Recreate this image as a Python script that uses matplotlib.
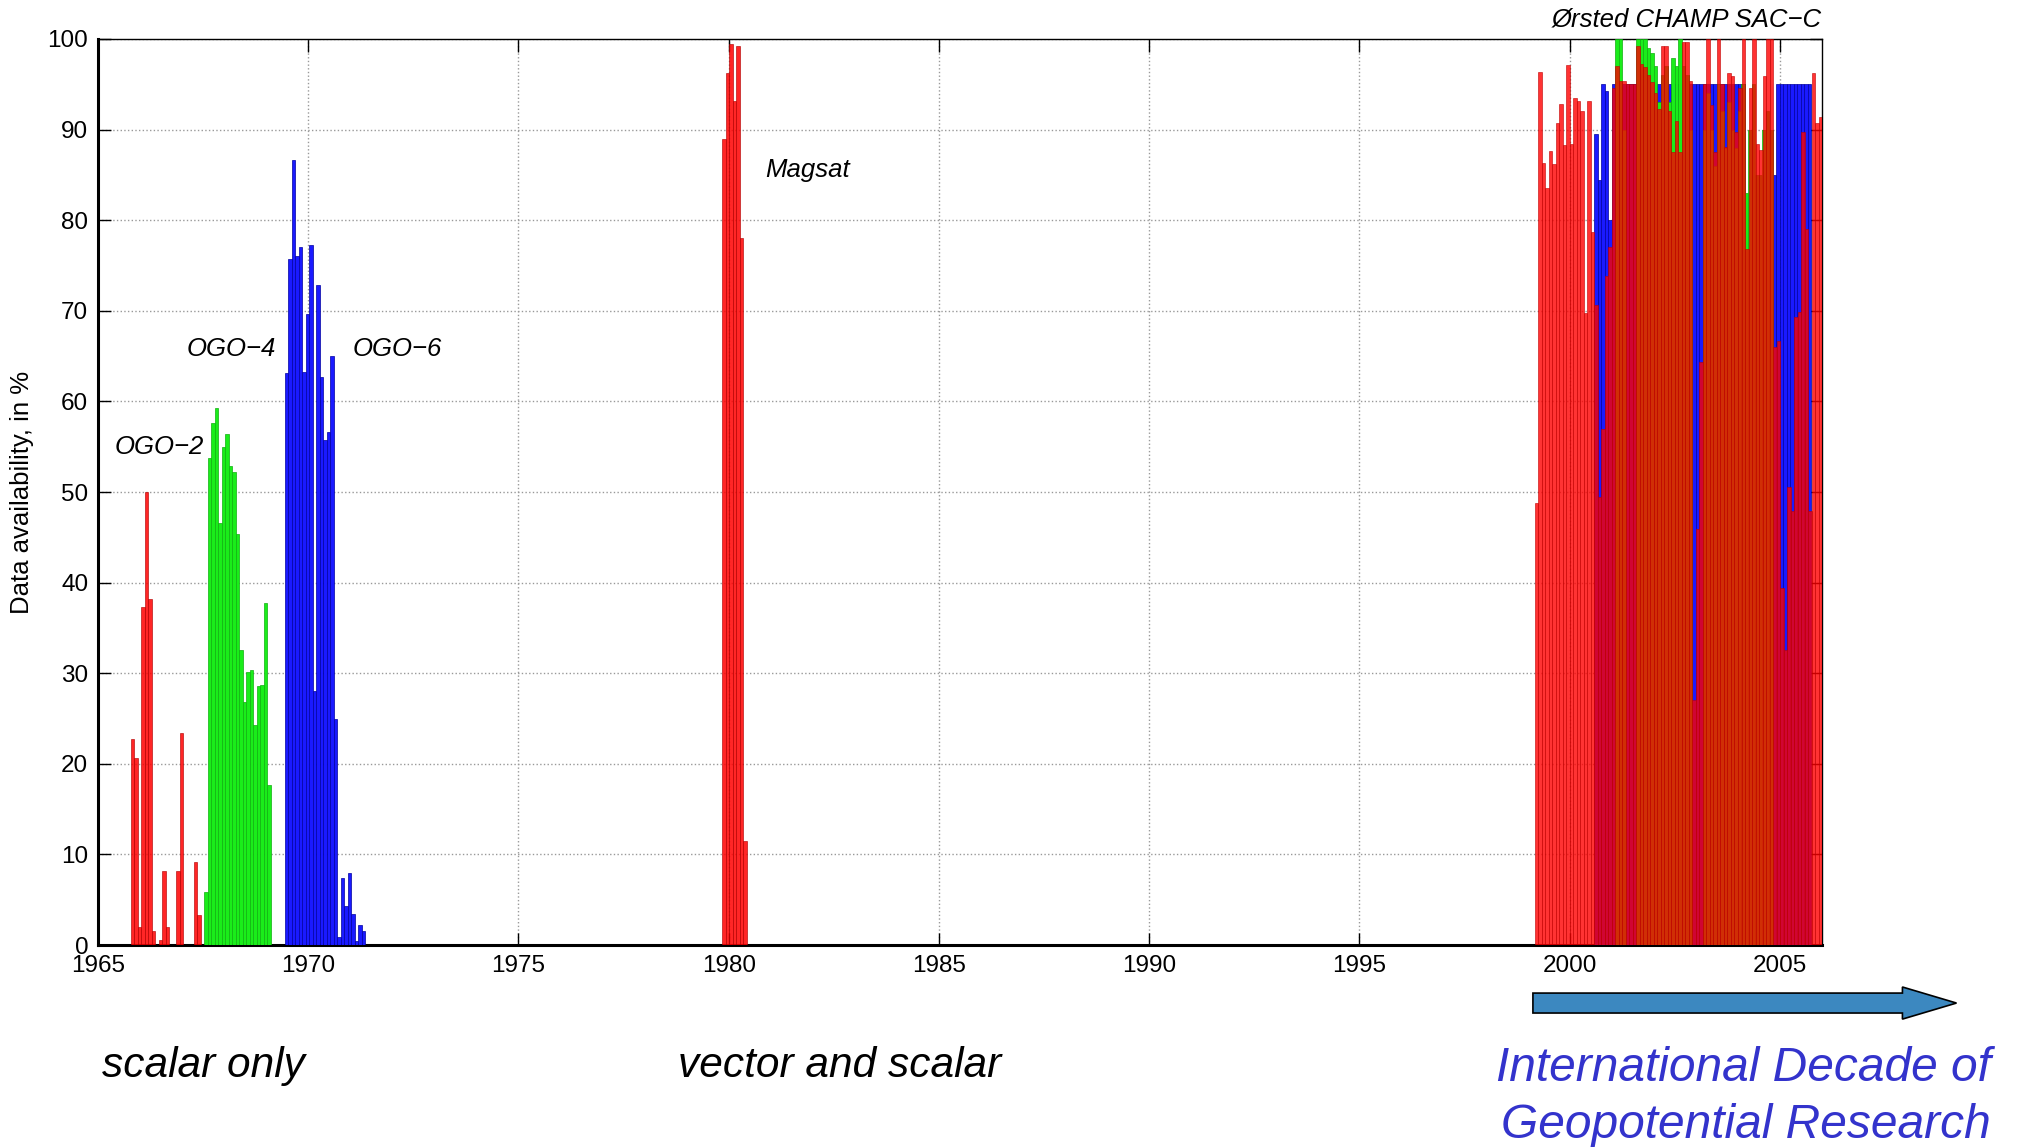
import numpy as np
import matplotlib.pyplot as plt
from matplotlib.patches import FancyArrow

plt.rcParams['font.family'] = ['Liberation Sans', 'DejaVu Sans']

# monthly data availability in %, one value per month from the start year
ogo2_start = 1965.78
ogo2 = [22.7, 20.6, 2, 37.3, 50, 38.2, 1.5, 0, 0.5, 8.2, 2, 0, 0, 8.2, 23.4,
        0, 0, 0, 9.2, 3.3]

ogo4_start = 1967.53
ogo4 = [5.9, 53.7, 57.6, 59.3, 46.6, 55, 56.4, 52.9, 52.2, 45.4, 32.6, 26.8,
        30.1, 30.3, 24.3, 28.6, 28.7, 37.8, 17.7]

ogo6_start = 1969.44
ogo6 = [63.1, 75.7, 86.6, 76, 77, 63.3, 69.7, 77.3, 28, 72.9, 62.7, 55.7,
        56.6, 65, 25, 0.9, 7.4, 4.3, 8, 3.4, 0.4, 2.2, 1.6]

magsat_start = 1979.85
magsat = [89, 96.3, 99.5, 93.2, 99.2, 78, 11.5]

oersted_start = 1999.17
oersted = [48.8, 96.4, 86.3, 83.6, 87.6, 86.2, 90.7, 92.8, 88.3, 97.1,
           88.4, 93.5, 93.2, 92.1, 69.8, 93.2, 78.7, 70.6, 49.5, 57,
           73.8, 77, 94.6, 97, 95.4, 95.4, 95, 95, 95, 99.2,
           97.2, 96.9, 96, 95.3, 94, 92.3, 99.2, 99.2, 92, 87.5,
           91, 87.5, 99.7, 99.7, 95.4, 27, 45.9, 64.4, 95, 100,
           92.7, 87.5, 100, 95, 88.1, 96.2, 95.9, 89.7, 94.6, 100,
           76.8, 94.6, 100, 88.4, 87.8, 95.9, 100, 100, 66, 66.7,
           39.4, 32.6, 50.5, 47.9, 69.3, 69.9, 89.7, 79, 47.9, 96.2,
           90.7, 91.4]

champ_start = 2000.58
champ = [89.5, 84.4, 95, 94.3, 80, 95, 95, 95, 95, 95,
         95, 95, 95, 95, 95, 95, 95, 95, 95, 95,
         95, 95, 95, 95, 95, 95, 95, 95, 95, 95,
         95, 95, 95, 95, 95, 95, 95, 95, 95, 95,
         95, 95, 95, 0, 0, 0, 0, 0, 0, 0,
         0, 85, 95, 95, 95, 95, 95, 95, 95, 95,
         95, 95]

sacc_start = 2001.08
sacc = [100, 100, 90, 0, 0, 0, 100, 100, 100, 99,
        98.5, 97, 93, 96, 97, 93, 97.9, 97, 100, 97,
        96, 90, 0, 0, 0, 90, 94, 90, 86, 95,
        92, 88, 93, 90, 88, 92, 95, 83, 90, 95,
        85, 85, 90, 92, 90]

RED = (1.0, 0.0, 0.0)
GREEN = (0.1, 0.93, 0.1)
BLUE = (0.1, 0.1, 1.0)
W = 1 / 12


def months(start, vals):
    return start + np.arange(len(vals)) / 12


fig = plt.figure(figsize=(20.17, 11.47), dpi=100)
ax = fig.add_axes([0.0486, 0.1761, 0.8547, 0.7899])

ax.bar(months(ogo2_start, ogo2), ogo2, width=W, align='edge', color=RED,
       alpha=0.85, edgecolor='#b00000', linewidth=0.5, zorder=3)
ax.bar(months(ogo4_start, ogo4), ogo4, width=W, align='edge', color=GREEN,
       edgecolor='#10b010', linewidth=0.5, zorder=3)
ax.bar(months(ogo6_start, ogo6), ogo6, width=W, align='edge', color=BLUE,
       edgecolor='#0000a0', linewidth=0.5, zorder=3)
ax.bar(months(magsat_start, magsat), magsat, width=W, align='edge', color=RED,
       alpha=0.85, edgecolor='#b00000', linewidth=0.5, zorder=3)

ax.bar(months(champ_start, champ), champ, width=W, align='edge', color=BLUE,
       edgecolor='#0000a0', linewidth=0.5, zorder=3)
ax.bar(months(sacc_start, sacc), sacc, width=W, align='edge', color=GREEN,
       edgecolor='#10b010', linewidth=0.5, zorder=4)
ax.bar(months(oersted_start, oersted), oersted, width=W, align='edge', color=RED,
       alpha=0.8, edgecolor='#c00000', linewidth=0.5, zorder=5)

ax.set_xlim(1965, 2006)
ax.set_ylim(0, 100)
ax.set_xticks(np.arange(1965, 2006, 5))
ax.set_yticks(np.arange(0, 101, 10))
ax.grid(True, linestyle=':', color='#999999', linewidth=1.0, zorder=0)
ax.set_axisbelow(True)
ax.tick_params(direction='in', top=True, right=True, length=9, width=1,
               labelsize=17.5)
ax.tick_params(axis='x', pad=7)
ax.tick_params(axis='y', pad=7)
for side in ['left', 'bottom']:
    ax.spines[side].set_linewidth(2.2)
for side in ['top', 'right']:
    ax.spines[side].set_linewidth(1.0)
ax.set_ylabel('Data availability, in %', fontsize=18.5, labelpad=10)

lab = dict(fontsize=18.5, style='italic', va='center')
ax.text(1965.4, 55, 'OGO\u22122', ha='left', **lab)
ax.text(1967.1, 65.8, 'OGO\u22124', ha='left', **lab)
ax.text(1971.05, 65.8, 'OGO\u22126', ha='left', **lab)
ax.text(1980.86, 85.5, 'Magsat', ha='left', **lab)
ax.text(2006, 102.2, '\u00d8rsted CHAMP SAC\u2212C', ha='right', clip_on=False, **lab)

fig.text(0.1007, 0.0706, 'scalar only', fontsize=30.5, style='italic',
         ha='center', va='center')
fig.text(0.4165, 0.0706, 'vector and scalar', fontsize=30.5, style='italic',
         ha='center', va='center')
fig.text(0.987, 0.0686, 'International Decade of', fontsize=34.5,
         style='italic', color='#3333cc', ha='right', va='center')
fig.text(0.987, 0.0186, 'Geopotential Research', fontsize=34.5,
         style='italic', color='#3333cc', ha='right', va='center')

arrow = FancyArrow(0.760, 0.1255, 0.210, 0, width=0.0174, head_width=0.028,
                   head_length=0.0268, length_includes_head=True,
                   transform=fig.transFigure, facecolor='#3c88c0',
                   edgecolor='black', linewidth=1.2)
fig.patches.append(arrow)

fig.savefig('out.png', dpi=100)
